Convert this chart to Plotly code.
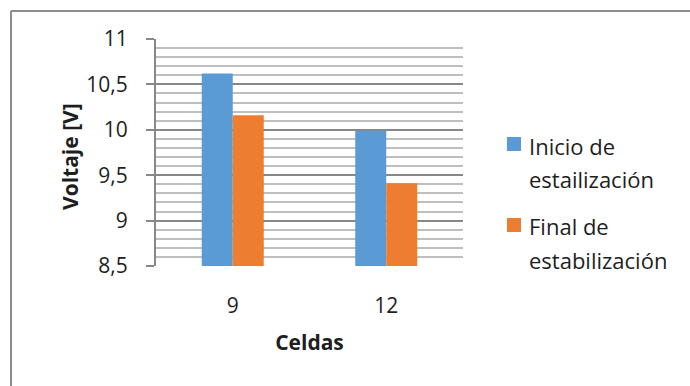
import plotly.graph_objects as go

# Data
celdas = ["9", "12"]
inicio = [10.62, 9.99]
final = [10.16, 9.41]
series_names = ["Inicio de estailización", "Final de estabilización"]
legend_lines = [["Inicio de", "estailización"], ["Final de", "estabilización"]]
colors = ["#5B9BD5", "#ED7D31"]
y_ticks = [8.5, 9, 9.5, 10, 10.5, 11]
y_ticktext = ["8,5", "9", "9,5", "10", "10,5", "11"]

FONT = "Open Sans"
TXT = "#1E1E1E"
W, H = 690, 386
L, R, T, B = 156, 463, 39, 266  # plot area in px

fig = go.Figure()
for name, vals, col in zip(series_names, [inicio, final], colors):
    fig.add_trace(go.Bar(x=celdas, y=vals, name=name, marker_color=col,
                         marker_line_width=0, showlegend=False))

def px_x(px):
    return (px - L) / (R - L)

def px_y(py):
    return (B - py) / (B - T)

shapes = [
    # outer frame
    dict(type="line", xref="paper", yref="paper", x0=px_x(11), x1=px_x(700),
         y0=px_y(11), y1=px_y(11), line=dict(color="#8C8C8C", width=2)),
    dict(type="line", xref="paper", yref="paper", x0=px_x(11), x1=px_x(11),
         y0=px_y(11), y1=px_y(400), line=dict(color="#8C8C8C", width=2)),
]
annotations = [
    # y axis title
    dict(text="<b>Voltaje [V]</b>", xref="paper", yref="paper", x=px_x(70), y=px_y(157),
         xanchor="center", yanchor="middle", textangle=-90, showarrow=False,
         font=dict(family=FONT, size=21, color=TXT)),
]
# legend built from squares and text lines
sq_tops = [137, 218]
line_centers = [[146, 179], [226, 260]]
for i, col in enumerate(colors):
    shapes.append(dict(type="rect", xref="paper", yref="paper",
                       x0=px_x(507), x1=px_x(521), y0=px_y(sq_tops[i]), y1=px_y(sq_tops[i] + 14),
                       fillcolor=col, line_width=0))
    for txt, yc in zip(legend_lines[i], line_centers[i]):
        annotations.append(dict(text=txt, xref="paper", yref="paper", x=px_x(527), y=px_y(yc),
                                xanchor="left", yanchor="middle", showarrow=False,
                                font=dict(family=FONT, size=22, color=TXT)))

fig.update_layout(
    width=W, height=H,
    margin=dict(l=L, r=W - R, t=T, b=H - B, autoexpand=False),
    paper_bgcolor="white", plot_bgcolor="white",
    barmode="group", bargap=0.596, bargroupgap=0,
    font=dict(family=FONT, size=21, color=TXT),
    shapes=shapes, annotations=annotations,
    showlegend=False,
)
fig.update_xaxes(
    type="category", showgrid=False, ticks="", ticklabelstandoff=25,
    showline=False, zeroline=False,
    title=dict(text="<b>Celdas</b>", standoff=17, font=dict(family=FONT, size=21, color=TXT)),
    tickfont=dict(family=FONT, size=21, color=TXT),
)
fig.update_yaxes(
    range=[8.5, 11], tickvals=y_ticks, ticktext=y_ticktext,
    showgrid=True, gridcolor="#878787", gridwidth=2,
    minor=dict(dtick=0.1, tick0=8.5, showgrid=True, gridcolor="#BEBEBE", gridwidth=1.5, ticks=""),
    ticks="outside", ticklen=8, tickwidth=2, tickcolor="#878787",
    ticklabelstandoff=14,
    showline=True, linecolor="#878787", linewidth=2, zeroline=False,
    tickfont=dict(family=FONT, size=21, color=TXT),
)

fig.write_html("out.html")
